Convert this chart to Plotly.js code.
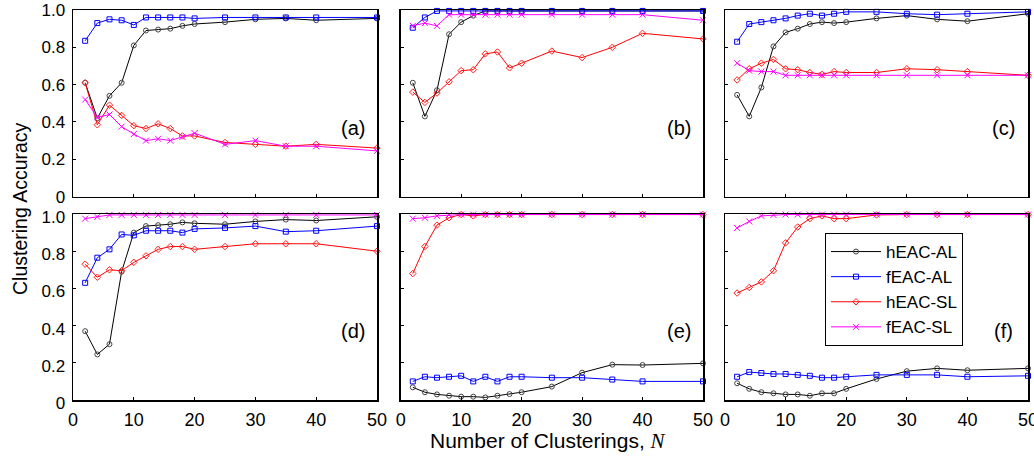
<!DOCTYPE html>
<html>
<head>
<meta charset="utf-8">
<script src="https://cdn.plot.ly/plotly-3.0.1.min.js"></script>
<style>html,body{margin:0;padding:0;background:#fff;}#chart{width:1034px;height:457px;}</style>
</head>
<body>
<div id="chart"></div>
<script>
// Number of clusterings
const N = [2, 4, 6, 8, 10, 12, 14, 16, 18, 20, 25, 30, 35, 40, 50];
const seriesNames = ["hEAC-AL", "fEAC-AL", "hEAC-SL", "fEAC-SL"];
const panelLabels = ["(a)", "(b)", "(c)", "(d)", "(e)", "(f)"];
const yTickVals = [0, 0.2, 0.4, 0.6, 0.8, 1.0];
const yTickText = ["0", "0.2", "0.4", "0.6", "0.8", "1.0"];
const xTickVals = [0, 10, 20, 30, 40, 50];

// Panel (a)
const a_hAL = [0.61, 0.42, 0.54, 0.61, 0.81, 0.89, 0.895, 0.90, 0.915, 0.925, 0.935, 0.95, 0.955, 0.945, 0.955];
const a_fAL = [0.835, 0.93, 0.95, 0.945, 0.92, 0.96, 0.96, 0.96, 0.96, 0.955, 0.96, 0.96, 0.96, 0.96, 0.96];
const a_hSL = [0.61, 0.385, 0.49, 0.435, 0.38, 0.365, 0.39, 0.365, 0.325, 0.325, 0.29, 0.28, 0.27, 0.28, 0.26];
const a_fSL = [0.52, 0.425, 0.44, 0.375, 0.335, 0.30, 0.31, 0.30, 0.32, 0.34, 0.28, 0.30, 0.27, 0.27, 0.245];
// Panel (b)
const b_hAL = [0.61, 0.43, 0.57, 0.87, 0.935, 0.97, 0.995, 0.995, 0.995, 0.995, 0.995, 0.995, 0.995, 0.995, 0.995];
const b_fAL = [0.905, 0.96, 0.995, 0.995, 0.995, 0.995, 0.995, 0.995, 0.995, 0.995, 0.995, 0.995, 0.995, 0.995, 0.995];
const b_hSL = [0.56, 0.505, 0.555, 0.615, 0.675, 0.68, 0.765, 0.775, 0.69, 0.715, 0.78, 0.745, 0.80, 0.875, 0.845];
const b_fSL = [0.915, 0.93, 0.915, 0.975, 0.975, 0.975, 0.975, 0.975, 0.975, 0.975, 0.975, 0.975, 0.975, 0.975, 0.945];
// Panel (c)
const c_hAL = [0.545, 0.43, 0.585, 0.805, 0.88, 0.90, 0.925, 0.935, 0.93, 0.935, 0.955, 0.97, 0.95, 0.94, 0.98];
const c_fAL = [0.83, 0.925, 0.935, 0.945, 0.955, 0.97, 0.98, 0.97, 0.98, 0.99, 0.99, 0.98, 0.975, 0.98, 0.99];
const c_hSL = [0.625, 0.685, 0.715, 0.735, 0.685, 0.68, 0.665, 0.655, 0.67, 0.665, 0.665, 0.685, 0.68, 0.67, 0.65];
const c_fSL = [0.715, 0.675, 0.67, 0.67, 0.65, 0.65, 0.65, 0.65, 0.65, 0.65, 0.65, 0.65, 0.65, 0.65, 0.65];
// Panel (d)
const d_hAL = [0.37, 0.245, 0.30, 0.69, 0.90, 0.935, 0.94, 0.945, 0.955, 0.95, 0.945, 0.96, 0.97, 0.965, 0.985];
const d_fAL = [0.63, 0.765, 0.81, 0.89, 0.885, 0.91, 0.91, 0.91, 0.90, 0.92, 0.925, 0.935, 0.905, 0.91, 0.935];
const d_hSL = [0.73, 0.66, 0.70, 0.695, 0.74, 0.775, 0.81, 0.825, 0.825, 0.81, 0.825, 0.84, 0.84, 0.84, 0.80];
const d_fSL = [0.975, 0.985, 0.995, 0.995, 0.995, 0.995, 0.995, 0.995, 0.995, 0.995, 0.995, 0.995, 0.995, 0.995, 0.995];
// Panel (e)
const e_hAL = [0.068, 0.042, 0.03, 0.023, 0.018, 0.018, 0.014, 0.023, 0.032, 0.042, 0.072, 0.147, 0.19, 0.188, 0.197];
const e_fAL = [0.10, 0.125, 0.12, 0.125, 0.13, 0.10, 0.125, 0.10, 0.125, 0.125, 0.12, 0.12, 0.11, 0.10, 0.10];
const e_hSL = [0.68, 0.825, 0.94, 0.98, 0.997, 0.99, 0.997, 0.997, 0.997, 0.997, 0.997, 0.997, 0.997, 0.997, 0.997];
const e_fSL = [0.975, 0.98, 0.99, 0.995, 0.997, 0.997, 0.997, 0.997, 0.997, 0.997, 0.997, 0.997, 0.997, 0.997, 0.997];
// Panel (f)
const f_hAL = [0.09, 0.06, 0.042, 0.036, 0.03, 0.03, 0.023, 0.036, 0.036, 0.06, 0.113, 0.155, 0.17, 0.16, 0.17];
const f_fAL = [0.125, 0.15, 0.145, 0.14, 0.14, 0.135, 0.13, 0.12, 0.12, 0.125, 0.135, 0.135, 0.135, 0.125, 0.13];
const f_hSL = [0.575, 0.605, 0.635, 0.695, 0.845, 0.93, 0.975, 0.99, 0.975, 0.975, 0.995, 0.997, 0.997, 0.997, 0.997];
const f_fSL = [0.925, 0.96, 0.99, 0.995, 0.997, 0.997, 0.997, 0.997, 0.997, 0.997, 0.997, 0.997, 0.997, 0.997, 0.997];

const panels = [
  [a_hAL, a_fAL, a_hSL, a_fSL],
  [b_hAL, b_fAL, b_hSL, b_fSL],
  [c_hAL, c_fAL, c_hSL, c_fSL],
  [d_hAL, d_fAL, d_hSL, d_fSL],
  [e_hAL, e_fAL, e_hSL, e_fSL],
  [f_hAL, f_fAL, f_hSL, f_fSL]
];

const styles = [
  {line: '#000000', marker: '#444444', symbol: 'circle-open', size: 5},
  {line: '#0000ff', marker: '#0000ff', symbol: 'square-open', size: 5},
  {line: '#ff0000', marker: '#ff2020', symbol: 'diamond-open', size: 5},
  {line: '#ff00ff', marker: '#ff00ff', symbol: 'x-thin-open', size: 6}
];

const FONT = 'Liberation Sans, Arial, Helvetica, sans-serif';
const W = 1034, H = 457;
const xDom = [[73, 377], [400.7, 703], [725, 1028]];
const yDom = [[10, 196.6], [214, 400]];

const traces = [];
panels.forEach((p, pi) => {
  const ax = pi === 0 ? '' : String(pi + 1);
  p.forEach((vals, si) => {
    const s = styles[si];
    traces.push({
      x: N, y: vals, type: 'scatter', mode: 'lines+markers',
      name: seriesNames[si],
      xaxis: 'x' + ax, yaxis: 'y' + ax,
      showlegend: pi === 0,
      cliponaxis: false,
      line: {color: s.line, width: 1},
      marker: {symbol: s.symbol, size: s.size, color: s.marker, line: {color: s.marker, width: 1}}
    });
  });
});

const layout = {
  width: W, height: H,
  margin: {l: 0, r: 0, t: 0, b: 0},
  paper_bgcolor: '#fff', plot_bgcolor: '#fff',
  font: {family: FONT, size: 17, color: '#000'},
  showlegend: true,
  legend: {
    x: 825 / W, y: 1 - 233 / H, xanchor: 'left', yanchor: 'top',
    bordercolor: '#000', borderwidth: 1, bgcolor: '#fff',
    font: {family: FONT, size: 17, color: '#000'},
    itemwidth: 50, tracegroupgap: 0
  },
  annotations: [],
  shapes: []
};

for (let pi = 0; pi < 6; pi++) {
  const ax = pi === 0 ? '' : String(pi + 1);
  const col = pi % 3, row = Math.floor(pi / 3);
  const xd = xDom[col], yd = yDom[row];
  layout['xaxis' + ax] = {
    domain: [xd[0] / W, xd[1] / W],
    anchor: 'y' + ax,
    range: [0, 50], tickvals: xTickVals,
    showticklabels: row === 1,
    ticks: 'inside', ticklen: 3, tickwidth: 1, tickcolor: '#000',
    showline: true, linewidth: 1.5, linecolor: '#000', mirror: true,
    showgrid: false, zeroline: false,
    ticklabelstandoff: 3, ticklabeloverflow: 'allow',
    tickfont: {family: FONT, size: 18, color: '#000'}
  };
  layout['yaxis' + ax] = {
    domain: [1 - yd[1] / H, 1 - yd[0] / H],
    anchor: 'x' + ax,
    range: [0, 1], tickvals: yTickVals, ticktext: yTickText,
    showticklabels: col === 0,
    ticks: 'inside', ticklen: 3, tickwidth: 1, tickcolor: '#000',
    showline: true, linewidth: 1.5, linecolor: '#000', mirror: true,
    showgrid: false, zeroline: false,
    ticklabelstandoff: 3, ticklabeloverflow: 'allow',
    ticklabelshift: row === 0 ? 0 : 3,
    tickfont: {family: FONT, size: 17, color: '#000'}
  };
  layout.annotations.push({
    text: panelLabels[pi], xref: 'x' + ax, yref: 'y' + ax,
    x: 46, y: 0.37, showarrow: false, xanchor: 'center', yanchor: 'middle',
    font: {family: FONT, size: 20, color: '#000'}
  });
}

layout.annotations.push({
  text: 'Clustering Accuracy', xref: 'paper', yref: 'paper',
  x: 20 / W, y: 1 - 209 / H, textangle: -90, showarrow: false,
  xanchor: 'center', yanchor: 'middle',
  font: {family: FONT, size: 19.5, color: '#000'}
});
layout.annotations.push({
  text: 'Number of Clusterings, <span style="font-family:\'Liberation Serif\',serif;font-style:italic">N</span>',
  xref: 'paper', yref: 'paper',
  x: 548 / W, y: 1 - 441 / H, showarrow: false,
  xanchor: 'center', yanchor: 'middle',
  font: {family: FONT, size: 21, color: '#000'}
});

Plotly.newPlot('chart', traces, layout, {displayModeBar: false, staticPlot: true});
</script>
</body>
</html>
